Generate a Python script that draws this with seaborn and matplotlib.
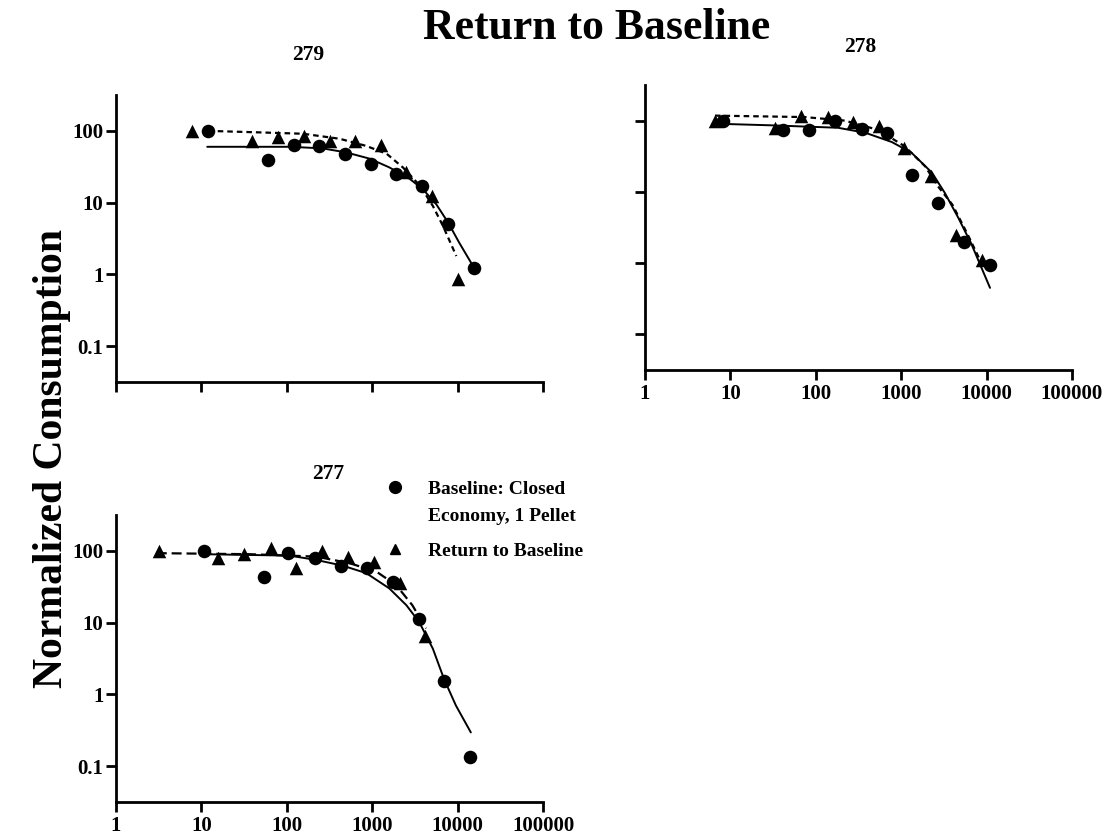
import matplotlib
matplotlib.use("Agg")
import matplotlib.pyplot as plt
from matplotlib.lines import Line2D
import seaborn as sns

# ---- Subject 279 ----
s279_base_x = [12, 60, 120, 240, 475, 960, 1900, 3800, 7700, 15500]
s279_base_y = [100, 39, 63, 62, 48, 35, 25, 16.8, 5.0, 1.24]
s279_ret_x = [7.8, 39, 79, 158, 318, 630, 1260, 2500, 5000, 10000]
s279_ret_y = [100, 72, 82, 84, 72, 72, 63, 27, 12.4, 0.87]
s279_base_fit_x = [11.7, 110, 263, 500, 933, 1585, 2754, 3890, 5623, 7762, 10470, 15140]
s279_base_fit_y = [60, 60, 57, 50, 41, 31, 21.4, 15.5, 9.5, 5.25, 2.75, 1.31]
s279_ret_fit_x = [12, 44.7, 155, 417, 851, 1479, 2291, 3631, 5129, 6761, 9661]
s279_ret_fit_y = [100, 95.5, 91.2, 77.6, 61.7, 47.9, 30.9, 17.2, 9.0, 4.7, 1.8]

# ---- Subject 278 ----
s278_base_x = [8.3, 41, 84, 167, 344, 673, 1330, 2700, 5500, 11000]
s278_base_y = [100, 73, 75, 100, 77, 66, 17, 6.9, 2.0, 0.93]
s278_ret_x = [6.6, 33, 68, 138, 275, 553, 1080, 2220, 4400, 8750]
s278_ret_y = [100, 80, 115, 111, 96, 83, 41, 16.6, 2.5, 1.12]
s278_base_fit_x = [6.2, 30.2, 182, 380, 776, 1318, 2291, 3236, 4677, 6683, 10965]
s278_base_fit_y = [90.8, 85.9, 79.4, 67.6, 50.1, 35.5, 18.6, 9.7, 4.3, 1.82, 0.45]
s278_ret_fit_x = [6.6, 74, 219, 537, 1096, 1905, 2692, 3981, 6026, 8710]
s278_ret_fit_y = [117.5, 112.2, 100, 74.1, 43.7, 22.9, 12.0, 6.6, 2.5, 1.0]

# ---- Subject 277 ----
s277_base_x = [10.8, 54, 104, 214, 433, 867, 1740, 3490, 7000, 14000]
s277_base_y = [100, 43, 93, 79, 62, 57, 37, 11.4, 1.56, 0.135]
s277_ret_x = [3.2, 15.7, 31.6, 65, 129, 258, 527, 1050, 2130, 4160]
s277_ret_y = [100, 79, 91, 109, 58, 100, 83, 69, 36, 6.5]
s277_base_fit_x = [10.5, 107, 221, 452, 851, 1585, 2512, 3548, 5129, 6918, 9550, 14289]
s277_base_fit_y = [89.9, 85.9, 74.8, 62.2, 49.0, 30.0, 17.5, 10.2, 4.34, 1.65, 0.70, 0.295]
s277_ret_fit_x = [3.0, 36.7, 221, 537, 1122, 1905, 2951, 4266]
s277_ret_fit_y = [92.9, 89.9, 83.2, 67.6, 51.3, 33.4, 17.5, 8.3]

x_ticks = [1, 10, 100, 1000, 10000, 100000]
x_tick_labels = ["1", "10", "100", "1000", "10000", "100000"]
y_ticks = [0.1, 1, 10, 100]
y_tick_labels = ["0.1", "1", "10", "100"]

baseline_label = ["Baseline: Closed", "Economy, 1 Pellet"]
return_label = "Return to Baseline"

sns.set_style("ticks")
plt.rcParams.update({
    "font.family": ["Liberation Serif", "DejaVu Serif"],
    "font.weight": "bold",
    "text.color": "black",
    "axes.labelcolor": "black",
    "axes.linewidth": 2.0,
    "xtick.major.width": 2.0,
    "ytick.major.width": 2.0,
    "xtick.major.size": 7,
    "ytick.major.size": 7,
    "xtick.color": "black",
    "ytick.color": "black",
    "axes.edgecolor": "black",
})

W, H = 1118, 838
fig = plt.figure(figsize=(W / 100, H / 100), dpi=100)
fig.patch.set_facecolor("white")


def px_axes(left, top, right, bottom):
    return fig.add_axes([left / W, 1 - bottom / H, (right - left) / W, (bottom - top) / H])


def draw_panel(ax, bx, by, rx, ry, bfx, bfy, rfx, rfy, dash, show_x, show_y):
    sns.lineplot(x=bfx, y=bfy, ax=ax, color="black", linewidth=1.4,
                 sort=False, estimator=None)
    sns.lineplot(x=rfx, y=rfy, ax=ax, color="black", linewidth=1.6,
                 sort=False, estimator=None, linestyle=(0, dash))
    sns.scatterplot(x=bx, y=by, ax=ax, marker="o", s=95, color="black",
                    linewidth=0, zorder=3)
    sns.scatterplot(x=rx, y=ry, ax=ax, marker="^", s=95, color="black",
                    linewidth=0, zorder=3)
    ax.set_xscale("log")
    ax.set_yscale("log")
    ax.set_xlim(1, 100000)
    ax.set_ylim(10 ** -1.5, 10 ** 2.5)
    ax.set_xticks(x_ticks)
    ax.set_yticks(y_ticks)
    ax.minorticks_off()
    ax.set_xticklabels(x_tick_labels if show_x else [""] * len(x_ticks),
                       fontsize=15, fontweight="bold", color="black")
    ax.set_yticklabels(y_tick_labels if show_y else [""] * len(y_ticks),
                       fontsize=15, fontweight="bold", color="black")
    ax.tick_params(axis="x", pad=3)
    ax.tick_params(axis="y", pad=2)
    ax.set_xlabel("")
    ax.set_ylabel("")
    for side in ("top", "right"):
        ax.spines[side].set_visible(False)
    ax.set_facecolor("white")


ax279 = px_axes(116, 95, 543, 382)
draw_panel(ax279, s279_base_x, s279_base_y, s279_ret_x, s279_ret_y,
           s279_base_fit_x, s279_base_fit_y, s279_ret_fit_x, s279_ret_fit_y,
           (2.5, 1.8), show_x=False, show_y=True)

ax278 = px_axes(645, 85, 1072, 370)
draw_panel(ax278, s278_base_x, s278_base_y, s278_ret_x, s278_ret_y,
           s278_base_fit_x, s278_base_fit_y, s278_ret_fit_x, s278_ret_fit_y,
           (2.5, 1.8), show_x=True, show_y=False)

ax277 = px_axes(116, 515, 543, 802)
draw_panel(ax277, s277_base_x, s277_base_y, s277_ret_x, s277_ret_y,
           s277_base_fit_x, s277_base_fit_y, s277_ret_fit_x, s277_ret_fit_y,
           (4.5, 2.2), show_x=True, show_y=True)

# Titles
fig.text(597 / W, 1 - 39 / H, "Return to Baseline", ha="center", va="baseline",
         fontsize=31.5, fontweight="bold")
fig.text(308 / W, 1 - 60 / H, "279", ha="center", va="baseline",
         fontsize=15.5, fontweight="bold")
fig.text(860 / W, 1 - 52 / H, "278", ha="center", va="baseline",
         fontsize=15.5, fontweight="bold")
fig.text(328 / W, 1 - 479 / H, "277", ha="center", va="baseline",
         fontsize=15.5, fontweight="bold")
fig.text(52 / W, 1 - 459 / H, "Normalized Consumption", rotation=90,
         ha="center", va="center", fontsize=30, fontweight="bold")

# Legend: a two-line entry for the baseline circles, one entry for the triangles
legend_prop = {"size": 14, "weight": "bold"}
circle_handle = Line2D([], [], marker="o", linestyle="none", color="black", markersize=8.5)
blank_handle = Line2D([], [], linestyle="none", marker=None)
triangle_handle = Line2D([], [], marker="^", linestyle="none", color="black", markersize=7.5)

leg1 = fig.legend([circle_handle, blank_handle], baseline_label, loc="upper left",
                  bbox_to_anchor=(383 / W, 1 - 480 / H), frameon=False,
                  prop=legend_prop, handlelength=1.2, handletextpad=1.1,
                  labelspacing=0.5, borderaxespad=0, borderpad=0)
leg2 = fig.legend([triangle_handle], [return_label], loc="upper left",
                  bbox_to_anchor=(383 / W, 1 - 542 / H), frameon=False,
                  prop=legend_prop, handlelength=1.2, handletextpad=1.1,
                  borderaxespad=0, borderpad=0)

fig.savefig("out.png", dpi=100, facecolor="white")
